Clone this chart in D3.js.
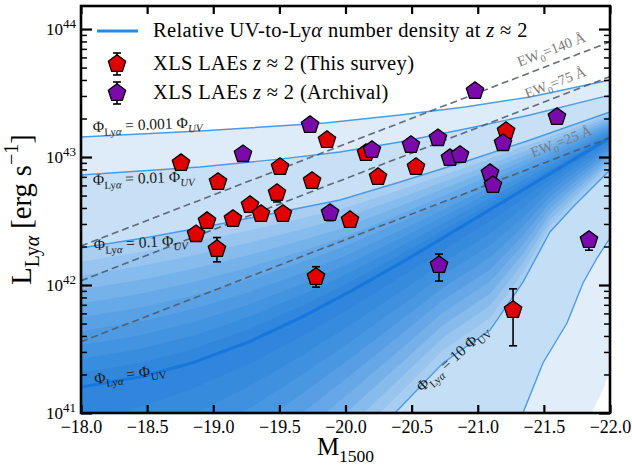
<!DOCTYPE html>
<html>
<head>
<meta charset="utf-8">
<script src="https://cdn.jsdelivr.net/npm/d3@7"></script>
<style>
  body { margin: 0; background: #fff; }
  text { font-family: "Liberation Serif", "DejaVu Serif", serif; }
</style>
</head>
<body>
<div id="chart"></div>
<script>
// ---------- data ----------
const xTickValues = [-18.0, -18.5, -19.0, -19.5, -20.0, -20.5, -21.0, -21.5, -22.0];
const yTickValues = [1e41, 1e42, 1e43, 1e44];

// XLS LAEs z~2, this survey (M1500, log L_Lya, errors in dex)
const surveyM     = [-18.756, -19.036, -19.505, -19.482, -19.278, -19.361, -19.527, -18.953, -19.149, -18.870, -19.028, -19.777, -19.860, -20.246, -20.533, -20.034, -21.214, -20.155, -19.747, -21.267];
const surveyLogL  = [42.953, 42.805, 42.922, 42.719, 42.625, 42.555, 42.555, 42.500, 42.516, 42.398, 42.281, 42.063, 43.133, 42.844, 42.922, 42.508, 43.203, 43.031, 42.813, 41.805];
const surveyErrLo = [0.03, 0.03, 0.03, 0.07, 0.03, 0.03, 0.03, 0.03, 0.03, 0.03, 0.10, 0.08, 0.03, 0.03, 0.03, 0.03, 0.03, 0.03, 0.03, 0.28];
const surveyErrHi = [0.03, 0.03, 0.03, 0.03, 0.03, 0.03, 0.03, 0.03, 0.03, 0.03, 0.09, 0.08, 0.03, 0.03, 0.03, 0.03, 0.03, 0.03, 0.03, 0.165];

// XLS LAEs z~2, archival
const archM     = [-19.225, -19.732, -19.883, -20.200, -20.495, -20.699, -20.790, -20.866, -20.979, -21.093, -21.115, -21.191, -21.599, -20.707, -21.841];
const archLogL  = [43.023, 43.250, 42.563, 43.055, 43.094, 43.148, 42.992, 43.016, 43.516, 42.875, 42.781, 43.109, 43.313, 42.156, 42.352];
const archErrLo = [0.03, 0.03, 0.06, 0.03, 0.03, 0.03, 0.03, 0.03, 0.03, 0.03, 0.03, 0.03, 0.03, 0.125, 0.08];
const archErrHi = [0.03, 0.03, 0.03, 0.03, 0.03, 0.03, 0.03, 0.03, 0.03, 0.03, 0.03, 0.03, 0.03, 0.086, 0.046];

// contours of Phi_Lya / Phi_UV (M1500, log L)
const phi0001M = [-18.0, -18.900, -19.845, -20.412, -20.904, -21.395, -22.0];
const phi0001L = [43.156, 43.203, 43.266, 43.328, 43.391, 43.469, 43.602];
const phi001M  = [-18.0, -18.900, -19.505, -19.958, -20.412, -20.941, -21.395, -22.0];
const phi001L  = [42.859, 42.922, 42.984, 43.039, 43.117, 43.227, 43.328, 43.484];
const phi01M   = [-18.0, -18.522, -19.051, -19.505, -19.958, -20.412, -20.941, -21.395, -22.0];
const phi01L   = [42.289, 42.375, 42.477, 42.570, 42.664, 42.805, 42.977, 43.133, 43.352];
const phi1M    = [-18.0, -18.446, -18.839, -19.278, -19.671, -20.034, -20.503, -20.941, -21.471, -22.0];
const phi1L    = [41.203, 41.281, 41.391, 41.559, 41.750, 41.948, 42.224, 42.496, 42.824, 43.152];
const phi10M   = [-20.374, -20.737, -21.093, -21.342, -21.546, -21.720, -22.0];
const phi10L   = [41.0, 41.391, 41.648, 42.023, 42.414, 42.609, 42.898];
const phi100M  = [-21.342, -21.493, -21.675, -21.796, -21.902, -22.0];
const phi100L  = [41.0, 41.391, 41.703, 42.016, 42.211, 42.367];
const phi1000M = [-21.864, -21.947, -22.0];
const phi1000L = [41.0, 41.180, 41.320];

// constant rest-frame EW lines (end points)
const ewLabels = ["140", "75", "25"];
const ewM = [-18.0, -22.0];
const ew140L = [42.305, 43.900];
const ew75L  = [42.034, 43.629];
const ew25L  = [41.557, 43.152];

// ---------- layout ----------
const W = 632, H = 465;
const margin = {top: 6, right: 22, bottom: 52, left: 81};
const width = W - margin.left - margin.right;
const height = H - margin.top - margin.bottom;

const svg = d3.select("#chart").append("svg")
  .attr("width", W).attr("height", H);
const g = svg.append("g").attr("transform", "translate(" + margin.left + "," + margin.top + ")");

const x = d3.scaleLinear().domain([-18, -22]).range([0, width]);
const y = d3.scaleLog().domain([1e41, Math.pow(10, 44.18)]).range([height, 0]);
const yl = v => y(Math.pow(10, v));

svg.append("defs").append("clipPath").attr("id", "clip")
  .append("rect").attr("width", width).attr("height", height);

const plot = g.append("g").attr("clip-path", "url(#clip)");

// contour as a piecewise function of M
const contour = (Ms, Ls) => d3.scaleLinear().domain(Ms).range(Ls);
const c0001 = contour(phi0001M, phi0001L), c001 = contour(phi001M, phi001L),
      c01 = contour(phi01M, phi01L), c1 = contour(phi1M, phi1L),
      c10 = contour(phi10M, phi10L), c100 = contour(phi100M, phi100L),
      c1000 = contour(phi1000M, phi1000L);

const grid = d3.range(-17.95, -22.06, -0.01);
const below = f => d3.area()
  .x(m => x(m))
  .y0(height + 2000)
  .y1(m => Math.min(height + 2000, yl(f(m))))(grid);

// filled levels, painted in order of increasing ratio
const layers = [];
layers.push({f: c0001, c: "#deecfa"});
layers.push({f: c001, c: "#c8e0f6"});
const colUp = d3.scaleLinear().domain([0, 0.2, 0.4, 0.6, 0.8, 1])
  .range(["#b2d3f3", "#8ec0ee", "#6dade9", "#529de3", "#3d90df", "#2c84db"]);
const colDown = d3.scaleLinear().domain([0, 0.2, 0.4, 0.6, 0.8, 1])
  .range(["#2c84db", "#3a8dde", "#4f9ae2", "#6dabe8", "#90c0ed", "#aed1f2"]);
const N = 10;
for (let i = 0; i < N; i++) {
  const t = i / N;
  layers.push({f: m => c01(m) + t * (c1(m) - c01(m)), c: colUp((i + 0.5) / N)});
}
for (let i = 0; i < N; i++) {
  const t = i / N;
  layers.push({f: m => c1(m) + t * (c10(m) - c1(m)), c: colDown((i + 0.5) / N)});
}
layers.push({f: c10, c: "#c4def5"});
layers.push({f: c100, c: "#e1eefa"});
layers.push({f: c1000, c: "#ffffff"});

plot.selectAll("path.band").data(layers).enter().append("path")
  .attr("class", "band")
  .attr("d", d => below(d.f))
  .attr("fill", d => d.c)
  .attr("stroke", d => d.c).attr("stroke-width", 0.5);

// contour lines
const line = d3.line().x(d => x(d[0])).y(d => yl(d[1]));
const zipL = (Ms, Ls) => Ms.map((m, i) => [m, Ls[i]]);
[[phi0001M, phi0001L], [phi001M, phi001L], [phi01M, phi01L], [phi10M, phi10L], [phi100M, phi100L]]
  .forEach(c => {
    plot.append("path").attr("d", line(zipL(c[0], c[1])))
      .attr("fill", "none").attr("stroke", "#4a9be6").attr("stroke-width", 1.4);
  });
plot.append("path").attr("d", line(zipL(phi1M, phi1L)))
  .attr("fill", "none").attr("stroke", "#1777dd").attr("stroke-width", 3.2)
  .attr("stroke-linejoin", "round");

// EW lines
[ew140L, ew75L, ew25L].forEach(L => {
  plot.append("path").attr("d", line(zipL(ewM, L)))
    .attr("fill", "none").attr("stroke", "#4b5563").attr("stroke-width", 1.6)
    .attr("stroke-dasharray", "7,4").attr("opacity", 0.85);
});

// rich text helper (sub / superscripts)
function rich(sel, parts, base) {
  let shift = 0;
  parts.forEach(p => {
    const target = p.sub ? base * 0.28 : p.sup ? -base * 0.45 : 0;
    const ts = sel.append("tspan").text(p.t).attr("dy", target - shift);
    if (p.sub || p.sup) ts.attr("font-size", base * 0.7);
    if (p.it) ts.attr("font-style", "italic");
    shift = target;
  });
}

// EW labels
const ewPos = [[553, 54], [557, 87], [563, 146]];
ewLabels.forEach((lab, i) => {
  const t = plot.append("text")
    .attr("transform", "translate(" + (ewPos[i][0] - margin.left) + "," + (ewPos[i][1] - margin.top) + ") rotate(-21)")
    .attr("text-anchor", "middle").attr("dy", "0.35em")
    .attr("font-size", 14.5).attr("fill", "#7a7a7a");
  rich(t, [{t: "EW"}, {t: "0", sub: true}, {t: "=" + lab + " Å"}], 14.5);
});

// contour labels
const phiLabels = [
  {pos: [93, 132], rot: -2.5, parts: [{t: "Φ"}, {t: "Ly", sub: true}, {t: "α", sub: true, it: true}, {t: " = 0.001 Φ"}, {t: "UV", sub: true, it: true}]},
  {pos: [93, 185], rot: -2, parts: [{t: "Φ"}, {t: "Ly", sub: true}, {t: "α", sub: true, it: true}, {t: " = 0.01 Φ"}, {t: "UV", sub: true, it: true}]},
  {pos: [94, 250], rot: -3, parts: [{t: "Φ"}, {t: "Ly", sub: true}, {t: "α", sub: true, it: true}, {t: " = 0.1 Φ"}, {t: "UV", sub: true, it: true}]},
  {pos: [95, 384], rot: -8, parts: [{t: "Φ"}, {t: "Ly", sub: true}, {t: "α", sub: true, it: true}, {t: " = Φ"}, {t: "UV", sub: true}]}
];
phiLabels.forEach(p => {
  const t = plot.append("text")
    .attr("transform", "translate(" + (p.pos[0] - margin.left) + "," + (p.pos[1] - margin.top) + ") rotate(" + p.rot + ")")
    .attr("font-size", 15.5).attr("fill", "#1a1a1a");
  rich(t, p.parts, 15.5);
});
{
  const t = plot.append("text")
    .attr("transform", "translate(" + (456 - margin.left) + "," + (362 - margin.top) + ") rotate(-42)")
    .attr("text-anchor", "middle").attr("dy", "0.35em")
    .attr("font-size", 15.5).attr("fill", "#1a1a1a");
  rich(t, [{t: "Φ"}, {t: "Ly", sub: true}, {t: "α", sub: true, it: true}, {t: " = 10 Φ"}, {t: "UV", sub: true}], 15.5);
}

// pentagon marker
const pentagon = {
  draw(ctx, size) {
    const r = Math.sqrt(size / 2.378);
    for (let k = 0; k < 5; k++) {
      const a = -Math.PI / 2 + k * 2 * Math.PI / 5;
      if (k === 0) ctx.moveTo(r * Math.cos(a), r * Math.sin(a));
      else ctx.lineTo(r * Math.cos(a), r * Math.sin(a));
    }
    ctx.closePath();
  }
};
const sym = d3.symbol().type(pentagon).size(2.378 * 84);

function drawSeries(Ms, Ls, lo, hi, color) {
  const data = Ms.map((m, i) => ({m: m, l: Ls[i], lo: lo[i], hi: hi[i]}));
  const eb = plot.append("g").attr("stroke", "#000").attr("stroke-width", 1.6);
  data.forEach(d => {
    const cx = x(d.m), y0 = yl(d.l - d.lo), y1 = yl(d.l + d.hi);
    eb.append("line").attr("x1", cx).attr("x2", cx).attr("y1", y0).attr("y2", y1);
    eb.append("line").attr("x1", cx - 4).attr("x2", cx + 4).attr("y1", y0).attr("y2", y0);
    eb.append("line").attr("x1", cx - 4).attr("x2", cx + 4).attr("y1", y1).attr("y2", y1);
  });
  plot.append("g").selectAll("path").data(data).enter().append("path")
    .attr("d", sym)
    .attr("transform", d => "translate(" + x(d.m) + "," + yl(d.l) + ")")
    .attr("fill", color).attr("stroke", "#000").attr("stroke-width", 1.3)
    .attr("stroke-linejoin", "round");
}
drawSeries(surveyM, surveyLogL, surveyErrLo, surveyErrHi, "#e00000");
drawSeries(archM, archLogL, archErrLo, archErrHi, "#7b0aab");

// ---------- axes ----------
const fmtX = d3.format(".1f");
const minorY = y.ticks().filter(v => yTickValues.indexOf(v) < 0);

const xb = g.append("g").attr("transform", "translate(0," + height + ")")
  .call(d3.axisBottom(x).tickValues(xTickValues).tickSize(-8).tickPadding(7).tickFormat(fmtX));
const xt = g.append("g")
  .call(d3.axisTop(x).tickValues(xTickValues).tickSize(-8).tickFormat(""));
const yL = g.append("g")
  .call(d3.axisLeft(y).tickValues(yTickValues).tickSize(-11).tickPadding(5).tickFormat(""));
const yLm = g.append("g")
  .call(d3.axisLeft(y).tickValues(minorY).tickSize(-6).tickFormat(""));
const yR = g.append("g").attr("transform", "translate(" + width + ",0)")
  .call(d3.axisRight(y).tickValues(yTickValues).tickSize(-11).tickFormat(""));
const yRm = g.append("g").attr("transform", "translate(" + width + ",0)")
  .call(d3.axisRight(y).tickValues(minorY).tickSize(-6).tickFormat(""));

[xb, xt, yL, yLm, yR, yRm].forEach(a => a.select(".domain").remove());
[xb, xt, yL, yR].forEach(a => a.selectAll(".tick line").attr("stroke", "#000").attr("stroke-width", 2.2));
[yLm, yRm].forEach(a => a.selectAll(".tick line").attr("stroke", "#000").attr("stroke-width", 1.5));

xb.selectAll(".tick text")
  .attr("font-family", "Liberation Serif, DejaVu Serif, serif")
  .attr("font-size", 18).attr("fill", "#000");

yL.selectAll(".tick text").each(function(d) {
  const t = d3.select(this).text("")
    .attr("font-family", "Liberation Serif, DejaVu Serif, serif")
    .attr("font-size", 17).attr("fill", "#000");
  t.append("tspan").text("10");
  t.append("tspan").attr("dy", "-0.55em").attr("font-size", 13).text(Math.round(Math.log10(d)));
});

// frame
g.append("rect").attr("width", width).attr("height", height)
  .attr("fill", "none").attr("stroke", "#000").attr("stroke-width", 2.6);

// axis titles
{
  const t = svg.append("text")
    .attr("transform", "translate(31," + (margin.top + height / 2) + ") rotate(-90)")
    .attr("text-anchor", "middle").attr("font-size", 28.5).attr("fill", "#000");
  rich(t, [{t: "L"}, {t: "Ly", sub: true}, {t: "α", sub: true, it: true}, {t: " [erg s"}, {t: "−1", sup: true}, {t: "]"}], 28.5);
}
{
  const t = svg.append("text")
    .attr("x", margin.left + width / 2).attr("y", 455)
    .attr("text-anchor", "middle").attr("font-size", 25).attr("fill", "#000");
  rich(t, [{t: "M"}, {t: "1500", sub: true}], 25);
}

// ---------- legend ----------
const leg = svg.append("g");
leg.append("line").attr("x1", 97).attr("x2", 138).attr("y1", 31).attr("y2", 31)
  .attr("stroke", "#2a88e4").attr("stroke-width", 3);
const legRows = [
  {y: 64, color: "#e00000", parts: [{t: "XLS LAEs "}, {t: "z", it: true}, {t: " ≈ 2 (This survey)"}]},
  {y: 93, color: "#7b0aab", parts: [{t: "XLS LAEs "}, {t: "z", it: true}, {t: " ≈ 2 (Archival)"}]}
];
legRows.forEach(r => {
  leg.append("line").attr("x1", 117).attr("x2", 117).attr("y1", r.y - 11).attr("y2", r.y + 11)
    .attr("stroke", "#000").attr("stroke-width", 1.6);
  leg.append("line").attr("x1", 113).attr("x2", 121).attr("y1", r.y - 11).attr("y2", r.y - 11)
    .attr("stroke", "#000").attr("stroke-width", 1.6);
  leg.append("line").attr("x1", 113).attr("x2", 121).attr("y1", r.y + 11).attr("y2", r.y + 11)
    .attr("stroke", "#000").attr("stroke-width", 1.6);
  leg.append("path").attr("d", sym()).attr("transform", "translate(117," + r.y + ")")
    .attr("fill", r.color).attr("stroke", "#000").attr("stroke-width", 1.3)
    .attr("stroke-linejoin", "round");
});
const legText = [
  {y: 37, parts: [{t: "Relative UV-to-Ly"}, {t: "α", it: true}, {t: " number density at "}, {t: "z", it: true}, {t: " ≈ 2"}]},
  {y: 70, parts: legRows[0].parts},
  {y: 99, parts: legRows[1].parts}
];
legText.forEach(r => {
  const t = leg.append("text").attr("x", 153).attr("y", r.y)
    .attr("font-size", 20.5).attr("letter-spacing", 0.35).attr("fill", "#000");
  rich(t, r.parts, 20.5);
});
</script>
</body>
</html>
